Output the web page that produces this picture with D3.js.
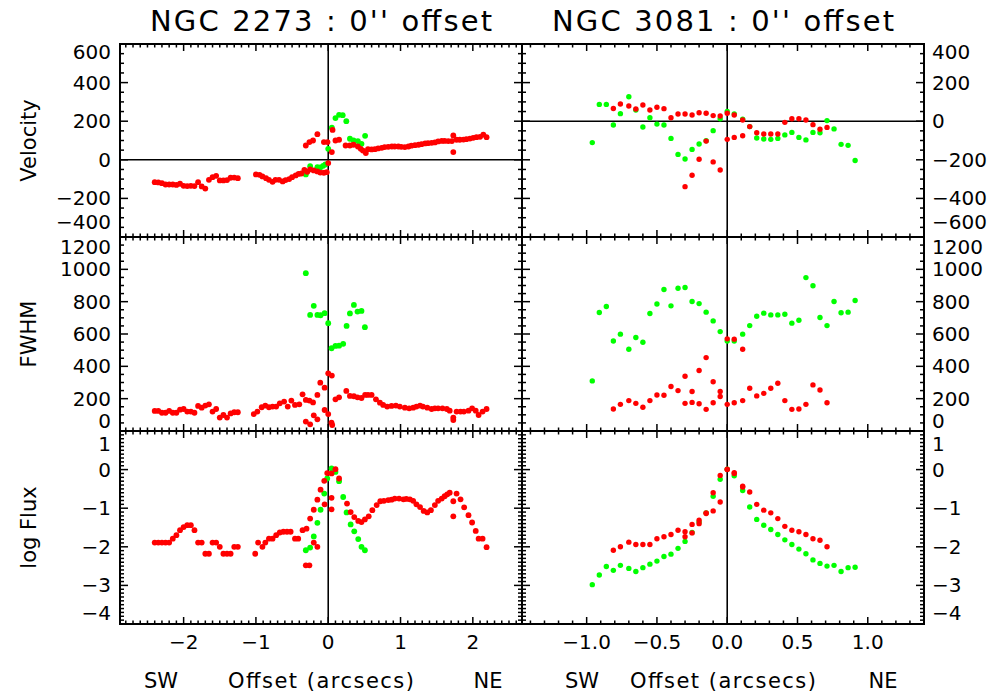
<!DOCTYPE html>
<html>
<head>
<meta charset="utf-8">
<script src="https://cdn.jsdelivr.net/npm/d3@7"></script>
<style>
  body { margin: 0; background: #fff; }
  svg { display: block; }
  text { font-family: "DejaVu Sans", sans-serif; fill: #000; }
</style>
</head>
<body>
<svg id="chart" width="1002" height="698"></svg>
<script>
// ---------------- NGC 2273 (offset in arcsec, value) ----------------
const n2273VelRed = [
  [-2.40,-116],[-2.35,-117],[-2.30,-121],[-2.25,-128],[-2.20,-128],[-2.15,-128],[-2.10,-130],[-2.05,-124],
  [-2.00,-135],[-1.95,-136],[-1.90,-135],[-1.85,-136],[-1.80,-116],[-1.75,-138],[-1.70,-149],[-1.65,-104],
  [-1.60,-90],[-1.55,-83],[-1.50,-107],[-1.45,-107],[-1.40,-105],[-1.35,-93],[-1.30,-92],[-1.25,-95],
  [-1.00,-76],[-0.95,-78],[-0.91,-86],[-0.86,-95],[-0.82,-104],[-0.77,-114],[-0.73,-104],[-0.68,-104],
  [-0.63,-112],[-0.59,-105],[-0.54,-100],[-0.50,-90],[-0.45,-81],[-0.41,-73],[-0.37,-71],[-0.33,-52],
  [-0.29,-62],[-0.25,-50],[-0.20,-55],[-0.15,-60],[-0.11,-66],[-0.06,-67],[-0.02,-64],[0.00,-17],
  [-0.31,74],[-0.26,92],[-0.21,100],[-0.15,133],[-0.06,92],[-0.01,92],
  [0.05,40],[0.06,155],[0.10,100],[0.15,104],[0.24,74],[0.30,74],[0.35,78],[0.41,69],[0.45,57],[0.48,48],[0.52,35],
  [0.55,55],[0.60,54],[0.645,55],[0.69,59],[0.74,62],[0.78,66],[0.83,67],[0.88,69],[0.92,69],[0.97,69],
  [1.01,67],[1.06,66],[1.11,69],[1.15,73],[1.20,76],[1.25,78],[1.29,81],[1.34,85],[1.38,86],[1.43,88],
  [1.475,90],[1.52,95],[1.57,98],[1.61,98],[1.66,97],[1.71,97],[1.73,126],[1.73,40],[1.775,104],[1.82,104],
  [1.87,105],[1.91,107],[1.96,110],[2.005,114],[2.05,117],[2.10,119],[2.145,130],[2.19,117]
];
const n2273VelGreen = [
  [-0.31,-76],[-0.25,-33],[-0.15,-38],[-0.11,-40],[-0.07,-31],[-0.04,-24],[0.00,57],[0.05,166],
  [0.10,216],[0.15,233],[0.20,231],[0.25,200],[0.30,109],[0.35,100],[0.41,97],[0.46,83],[0.51,124]
];
const n2273FwhmRed = [
  [-2.40,124],[-2.35,124],[-2.30,113],[-2.25,113],[-2.20,124],[-2.15,113],[-2.10,113],[-2.05,132],
  [-2.00,136],[-1.95,120],[-1.90,120],[-1.85,113],[-1.80,155],[-1.75,144],[-1.70,157],[-1.65,165],
  [-1.60,120],[-1.55,136],[-1.50,83],[-1.45,99],[-1.40,83],[-1.35,109],[-1.30,116],[-1.25,116],
  [-1.03,105],[-0.98,120],[-0.92,147],[-0.87,157],[-0.82,147],[-0.77,151],[-0.72,151],[-0.67,171],
  [-0.61,182],[-0.56,151],[-0.51,188],[-0.46,161],[-0.40,165],[-0.355,227],[-0.31,192],[-0.26,188],
  [-0.21,177],[-0.15,223],[-0.11,299],[-0.05,268],[0.00,357],[0.05,343],
  [-0.31,58],[-0.25,41],[-0.20,97],[-0.15,72],[-0.05,130],[0.00,105],[0.045,52],[0.055,37],
  [0.10,196],[0.15,208],[0.25,248],[0.30,217],[0.355,215],[0.405,208],[0.46,204],[0.51,223],[0.55,223],
  [0.60,223],[0.66,196],[0.715,175],[0.76,161],[0.816,151],[0.876,155],[0.936,157],[0.99,151],[1.06,144],
  [1.12,140],[1.175,144],[1.22,151],[1.27,157],[1.31,151],[1.37,144],[1.43,136],[1.475,140],[1.52,140],
  [1.58,140],[1.64,136],[1.68,126],[1.73,83],[1.73,68],[1.775,120],[1.83,120],[1.876,120],[1.94,126],
  [1.99,140],[2.04,126],[2.08,99],[2.135,120],[2.19,136]
];
const n2273FwhmGreen = [
  [-0.31,976],[-0.25,718],[-0.20,774],[-0.15,718],[-0.106,716],[-0.05,729],[0.00,667],[0.046,512],
  [0.10,526],[0.15,528],[0.207,539],[0.254,650],[0.30,727],[0.355,780],[0.405,739],[0.46,743],[0.507,642]
];
const n2273FluxRed = [
  [-2.40,-1.89],[-2.35,-1.89],[-2.30,-1.89],[-2.25,-1.89],[-2.20,-1.89],[-2.15,-1.79],[-2.10,-1.70],[-2.05,-1.57],
  [-2.00,-1.49],[-1.95,-1.44],[-1.90,-1.44],[-1.85,-1.57],[-1.80,-1.89],[-1.75,-1.89],[-1.70,-2.18],[-1.65,-2.18],
  [-1.60,-1.89],[-1.55,-1.89],[-1.50,-2.00],[-1.45,-2.18],[-1.40,-2.18],[-1.35,-2.18],[-1.30,-2.00],[-1.25,-2.00],
  [-1.01,-2.18],[-0.97,-1.89],[-0.91,-2.00],[-0.87,-1.89],[-0.82,-1.79],[-0.77,-1.79],[-0.72,-1.70],[-0.67,-1.63],
  [-0.62,-1.61],[-0.57,-1.61],[-0.52,-1.61],[-0.46,-1.79],[-0.415,-1.79],[-0.355,-1.57],[-0.30,-1.53],[-0.25,-1.27],
  [-0.20,-1.04],[-0.15,-0.78],[-0.106,-0.52],[-0.055,-0.29],[-0.014,-0.09],[0.046,-0.10],[0.10,0.01],[0.15,-0.23],
  [0.26,-0.88],[0.31,-1.10],[0.36,-1.23],[0.415,-1.33],[0.46,-1.36],[0.507,-1.29],[0.56,-1.21],[0.61,-1.05],
  [0.67,-0.92],[0.72,-0.82],[0.77,-0.81],[0.83,-0.79],[0.876,-0.78],[0.92,-0.75],[0.98,-0.75],[1.04,-0.77],
  [1.08,-0.76],[1.13,-0.77],[1.175,-0.81],[1.22,-0.90],[1.27,-0.97],[1.32,-1.07],[1.37,-1.11],[1.42,-1.05],
  [1.475,-0.92],[1.52,-0.81],[1.57,-0.75],[1.61,-0.69],[1.646,-0.64],[1.68,-0.60],[1.73,-0.82],[1.73,-1.21],
  [1.775,-0.62],[1.83,-0.77],[1.88,-0.98],[1.94,-1.18],[1.99,-1.37],[2.04,-1.59],[2.08,-1.79],[2.135,-1.79],[2.19,-2.01],
  [-0.31,-2.48],[-0.26,-2.48],[-0.20,-1.89],[-0.15,-2.00],[-0.05,-0.90],[0.046,-0.73],[0.046,-1.03]
];
const n2273FluxGreen = [
  [-0.31,-2.09],[-0.25,-2.02],[-0.20,-1.73],[-0.15,-1.38],[-0.106,-1.04],[-0.055,-0.62],[-0.014,-0.23],[0.046,0.03],
  [0.10,-0.06],[0.15,-0.30],[0.207,-0.71],[0.254,-1.11],[0.31,-1.42],[0.36,-1.60],[0.415,-1.80],[0.46,-2.00],[0.507,-2.09]
];

// ---------------- NGC 3081 (one value per slit position) ----------------
const n3081Offsets = [-0.96,-0.91,-0.86,-0.81,-0.76,-0.70,-0.65,-0.60,-0.55,-0.50,-0.45,-0.40,-0.35,-0.30,-0.25,-0.20,-0.15,-0.10,-0.05,0.00,
  0.05,0.11,0.16,0.21,0.26,0.31,0.36,0.41,0.46,0.51,0.56,0.61,0.66,0.71,0.76,0.81,0.86,0.91];
const n3081VelGreen = [-111,87,87,-20,39,127,58,-30,18,-15,-20,-89,-172,-196,-146,-118,-101,-49,13,50,
  37,11,-28,-87,-92,-94,-89,-71,-58,-84,-97,-58,-60,3,-40,-120,-125,-204];
const n3081VelRedA = [null,null,null,66,89,79,63,84,58,72,65,18,37,37,32,44,41,29,27,41,
  32,6,-28,-60,-66,-66,-66,-6,13,13,6,-18,-42,-32,null,null,null,null];
const n3081VelRedB = [null,null,null,null,null,null,null,null,null,null,null,null,null,-339,-280,-197,-103,-211,-253,-94,
  -84,-75,null,null,null,null,null,null,null,null,null,null,null,null,null,null,null,null];
const n3081FwhmGreen = [310,733,770,557,599,506,578,549,727,786,875,774,883,888,801,788,735,681,615,557,
  557,599,652,710,729,718,718,722,667,685,949,898,702,652,801,731,735,807];
const n3081FwhmRedA = [null,null,null,136,165,188,171,147,188,223,221,275,250,339,244,374,454,305,244,570,
  568,506,264,217,233,264,295,188,134,136,165,285,254,175,null,null,null,null];
const n3081FwhmRedB = [null,null,null,null,null,null,null,null,null,null,null,null,null,171,177,169,134,175,213,165,
  175,188,null,null,null,null,null,null,null,null,null,null,null,null,null,null,null,null];
const n3081FluxGreen = [-2.98,-2.73,-2.51,-2.61,-2.48,-2.56,-2.64,-2.54,-2.45,-2.37,-2.25,-2.19,-2.04,-1.86,-1.63,-1.36,-1.12,-0.69,-0.25,0.01,
  -0.16,-0.54,-0.97,-1.29,-1.44,-1.55,-1.68,-1.82,-1.94,-2.06,-2.18,-2.34,-2.43,-2.50,-2.48,-2.64,-2.54,-2.53];
const n3081FluxRedA = [null,null,null,-2.09,-2.00,-1.88,-1.94,-1.94,-1.94,-1.79,-1.74,-1.68,-1.57,-1.61,-1.42,-1.31,-1.14,-1.07,-0.15,0.01,
  -0.08,-0.43,-0.58,-0.90,-1.05,-1.12,-1.27,-1.47,-1.57,-1.61,-1.68,-1.79,-1.83,-2.00,null,null,null,null];
const n3081FluxRedB = [null,null,null,null,null,null,null,null,null,null,null,null,null,-1.74,-1.64,-1.40,-1.12,-0.60,-0.84,0.00,
  -0.10,-0.45,null,null,null,null,null,null,null,null,null,null,null,null,null,null,null,null];

// ---------------- axis text ----------------
const titles = ["NGC 2273 : 0'' offset", "NGC 3081 : 0'' offset"];
const rowLabels = ["Velocity", "FWHM", "log Flux"];
const xTicks2273 = [-2, -1, 0, 1, 2];
const xTicks3081 = [-1.0, -0.5, 0.0, 0.5, 1.0];
const velTicksL = [-400, -200, 0, 200, 400, 600];
const velTicksR = [-600, -400, -200, 0, 200, 400];
const fwhmTicks = [0, 200, 400, 600, 800, 1000, 1200];
const fluxTicks = [-4, -3, -2, -1, 0, 1];

const RED = "#ff0000", GREEN = "#00ff00";
const svg = d3.select("#chart");
const fmtMinus = s => String(s).replace("-", "\u2212");

const rowsPx = [[44, 237], [237, 431], [431, 624]];
const cols = [
  { x0: 120, x1: 522, domain: [-2.88, 2.68], ticks: xTicks2273, fmt: d => fmtMinus(d3.format("d")(d)), side: "left", r: 2.9 },
  { x0: 522, x1: 924, domain: [-1.46, 1.40], ticks: xTicks3081, fmt: d => fmtMinus(d3.format(".1f")(d)), side: "right", r: 2.7 }
];
cols.forEach(c => { c.x = d3.scaleLinear().domain(c.domain).range([c.x0, c.x1]); });

// label baselines for the end ticks are pulled inside the panel
const rowsSpec = [
  { domains: [[-400, 600], [-600, 400]], ticks: [velTicksL, velTicksR], minor: 50, hline: true, topLab: 15, botLab: -8 },
  { domains: [[0, 1200], [0, 1200]], ticks: [fwhmTicks, fwhmTicks], minor: 50, hline: false, topLab: 17, botLab: -3 },
  { domains: [[-4, 1], [-4, 1]], ticks: [fluxTicks, fluxTicks], minor: 0.1, hline: false, topLab: 20, botLab: -4 }
];

const pairs = (xs, ys) => xs.map((x, i) => [x, ys[i]]).filter(d => d[1] != null);
const seriesData = [
  [ // NGC 2273
    [[n2273VelGreen, GREEN], [n2273VelRed, RED]],
    [[n2273FwhmGreen, GREEN], [n2273FwhmRed, RED]],
    [[n2273FluxGreen, GREEN], [n2273FluxRed, RED]]
  ],
  [ // NGC 3081
    [[pairs(n3081Offsets, n3081VelGreen), GREEN], [pairs(n3081Offsets, n3081VelRedA), RED], [pairs(n3081Offsets, n3081VelRedB), RED]],
    [[pairs(n3081Offsets, n3081FwhmGreen), GREEN], [pairs(n3081Offsets, n3081FwhmRedA), RED], [pairs(n3081Offsets, n3081FwhmRedB), RED]],
    [[pairs(n3081Offsets, n3081FluxGreen), GREEN], [pairs(n3081Offsets, n3081FluxRedA), RED], [pairs(n3081Offsets, n3081FluxRedB), RED]]
  ]
];

function stepTicks(d0, d1, step) {
  const out = [];
  const n0 = Math.ceil(d0 / step - 1e-9), n1 = Math.floor(d1 / step + 1e-9);
  for (let k = n0; k <= n1; k++) out.push(+(k * step).toFixed(6));
  return out;
}

cols.forEach((c, ci) => {
  // column title
  svg.append("text").attr("x", (c.x0 + c.x1) / 2).attr("y", 31)
    .attr("text-anchor", "middle").attr("font-size", 29)
    .attr("textLength", 342).attr("lengthAdjust", "spacing")
    .text(titles[ci]);

  rowsSpec.forEach((rs, ri) => {
    const [top, bot] = rowsPx[ri];
    const y = d3.scaleLinear().domain(rs.domains[ci]).range([bot, top]);
    const g = svg.append("g");

    // reference lines at zero offset / zero velocity
    g.append("line").attr("x1", c.x(0)).attr("x2", c.x(0)).attr("y1", top).attr("y2", bot)
      .attr("stroke", "#000").attr("stroke-width", 1.6);
    if (rs.hline) {
      g.append("line").attr("x1", c.x0).attr("x2", c.x1).attr("y1", y(0)).attr("y2", y(0))
        .attr("stroke", "#000").attr("stroke-width", 1.6);
    }

    // x ticks (top and bottom, pointing inward)
    const xMinor = stepTicks(c.domain[0], c.domain[1], 0.1);
    const xMajor = c.ticks;
    const tk = g.append("g").attr("stroke", "#000").attr("stroke-width", 1.5);
    xMinor.forEach(v => {
      const isMaj = xMajor.some(m => Math.abs(m - v) < 1e-6);
      const L = isMaj ? 7 : 3.5;
      tk.append("line").attr("x1", c.x(v)).attr("x2", c.x(v)).attr("y1", bot).attr("y2", bot - L);
      tk.append("line").attr("x1", c.x(v)).attr("x2", c.x(v)).attr("y1", top).attr("y2", top + L);
    });
    // y ticks (left and right, pointing inward)
    const yMinor = stepTicks(rs.domains[ci][0], rs.domains[ci][1], rs.minor);
    const yMajor = rs.ticks[ci];
    yMinor.forEach(v => {
      const isMaj = yMajor.some(m => Math.abs(m - v) < 1e-6);
      const L = isMaj ? 8 : 4;
      tk.append("line").attr("x1", c.x0).attr("x2", c.x0 + L).attr("y1", y(v)).attr("y2", y(v));
      tk.append("line").attr("x1", c.x1).attr("x2", c.x1 - L).attr("y1", y(v)).attr("y2", y(v));
    });

    // y tick labels on the outer side
    const d0 = rs.domains[ci][0], d1 = rs.domains[ci][1];
    yMajor.forEach(v => {
      let yy = y(v) + 7;
      if (v === d1) yy = top + rs.topLab;
      if (v === d0) yy = bot + rs.botLab;
      const t = g.append("text").attr("y", yy).attr("font-size", 20).text(fmtMinus(v));
      if (c.side === "left") t.attr("x", c.x0 - 9).attr("text-anchor", "end");
      else t.attr("x", c.x1 + 8).attr("text-anchor", "start");
    });

    // data points
    seriesData[ci][ri].forEach(([pts, color]) => {
      g.append("g").selectAll("circle").data(pts).join("circle")
        .attr("cx", d => c.x(d[0])).attr("cy", d => y(d[1]))
        .attr("r", c.r).attr("fill", color);
    });

    // frame
    g.append("rect").attr("x", c.x0).attr("y", top).attr("width", c.x1 - c.x0).attr("height", bot - top)
      .attr("fill", "none").attr("stroke", "#000").attr("stroke-width", 2);

    // x tick labels on the bottom row
    if (ri === 2) {
      xMajor.forEach(v => {
        g.append("text").attr("x", c.x(v)).attr("y", 649).attr("text-anchor", "middle")
          .attr("font-size", 20).text(c.fmt(v));
      });
    }
  });

  // bottom axis captions
  svg.append("text").attr("x", (c.x0 + c.x1) / 2).attr("y", 688).attr("text-anchor", "middle")
    .attr("font-size", 21).attr("textLength", 186).attr("lengthAdjust", "spacing").text("Offset (arcsecs)");
  svg.append("text").attr("x", ci === 0 ? c.x0 + 41 : c.x0 + 60).attr("y", 688).attr("text-anchor", "middle")
    .attr("font-size", 21).text("SW");
  svg.append("text").attr("x", ci === 0 ? c.x1 - 34 : c.x1 - 41).attr("y", 688).attr("text-anchor", "middle")
    .attr("font-size", 21).text("NE");
});

// row labels on the left
rowLabels.forEach((lab, ri) => {
  const [top, bot] = rowsPx[ri];
  svg.append("text").attr("transform", `translate(36,${(top + bot) / 2}) rotate(-90)`)
    .attr("text-anchor", "middle").attr("font-size", 21).text(lab);
});
</script>
</body>
</html>
